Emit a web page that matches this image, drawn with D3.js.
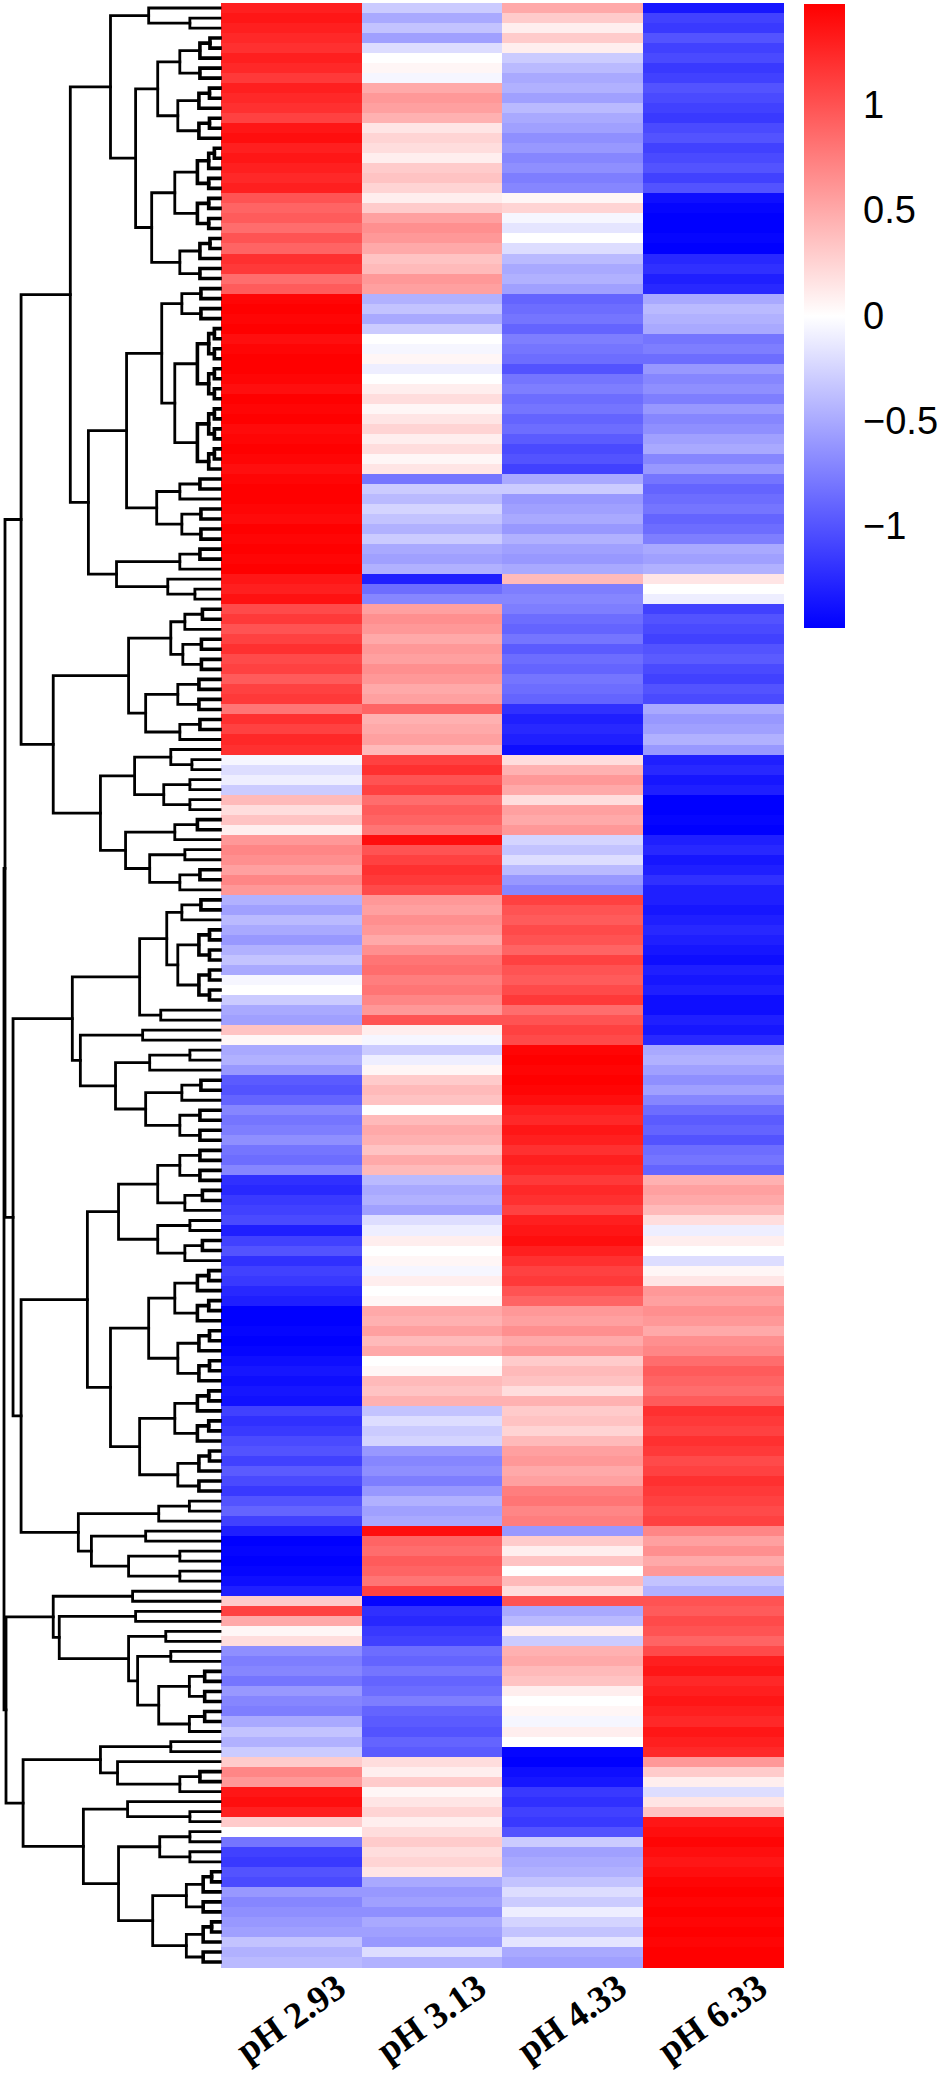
<!DOCTYPE html>
<html>
<head>
<meta charset="utf-8">
<script src="https://cdn.jsdelivr.net/npm/d3@7"></script>
<style>
  html, body { margin: 0; padding: 0; background: #ffffff; }
  svg { display: block; }
</style>
</head>
<body>
<svg id="chart" width="940" height="2077"></svg>
<script>
// ---------------- DATA ----------------
const columns = ["pH 2.93", "pH 3.13", "pH 4.33", "pH 6.33"];

const ph293 = [1.3,1.35,1.3,
1.25,1.2,1.3,1.25,1.15,1.3,1.25,1.2,1.1,
1.35,1.4,1.3,1.35,1.3,1.25,1.3,
1.0,0.9,0.95,0.85,1.0,0.9,
1.2,1.15,
0.85,0.95,
1.45,1.48,1.45,1.48,1.4,1.45,1.48,1.48,1.45,1.4,1.48,1.45,1.48,1.42,1.45,1.48,1.45,1.4,1.45,1.48,1.48,1.45,1.42,1.48,1.45,1.48,1.45,1.48,
1.35,1.3,1.38,
1.05,1.15,1.0,1.1,1.2,1.05,1.1,0.95,1.1,1.15,
0.8,
1.2,1.1,1.25,1.2,
-0.05,-0.2,-0.1,-0.3,
0.4,0.2,0.35,0.1,
0.6,0.7,0.65,0.55,0.7,0.6,
-0.45,-0.55,-0.4,-0.5,-0.6,-0.45,-0.35,-0.5,-0.05,0.0,-0.3,-0.5,-0.55,
0.35,0.05,
-0.5,-0.45,-0.6,
-0.95,-1.0,-0.9,
-0.7,-0.8,-0.75,-0.65,-0.8,-0.85,-0.7,
-1.2,-1.25,-1.15,-1.1,
-1.05,-1.3,-1.1,-1.0,
-1.2,-1.1,-1.15,-1.25,-1.3,
-1.48,-1.48,-1.45,-1.48,-1.45,-1.4,-1.35,-1.4,-1.35,-1.38,
-1.1,-1.2,-1.15,-1.05,
-1.0,-1.1,-0.95,-1.05,-1.15,-1.0,-0.9,-1.1,
-1.3,-1.48,-1.45,-1.48,-1.45,-1.4,-1.3,
0.3,1.1,0.5,0.05,0.2,
-0.65,-0.75,-0.7,-0.8,-0.6,-0.7,-0.75,
-0.5,-0.35,-0.45,-0.3,
0.3,0.7,0.6,
1.35,1.4,1.3,
0.3,0.0,
-0.8,-1.1,-1.15,-1.0,-1.05,
-0.6,-0.7,-0.65,-0.6,-0.55,
-0.35,-0.45,-0.4];

const ph313 = [-0.3,-0.5,-0.35,
-0.55,-0.2,
0.0,0.05,-0.05,
0.5,0.6,0.55,0.45,
0.15,0.25,0.2,0.1,0.3,
0.35,0.25,
0.1,0.3,
0.55,0.65,0.6,0.5,
0.35,0.4,
0.6,0.55,
-0.45,-0.35,-0.5,-0.3,
0.0,-0.05,0.05,-0.1,0.0,
0.1,0.2,0.05,0.15,0.25,0.1,0.2,0.05,0.15,
-0.8,
-0.3,-0.4,-0.25,-0.35,-0.45,-0.3,
-0.5,-0.55,-0.45,
-1.3,
-0.85,-0.7,
0.55,0.65,0.6,0.5,0.6,0.55,0.65,0.6,0.5,0.55,
0.9,0.45,0.5,0.55,0.4,
1.1,1.2,1.0,1.1,
0.85,0.95,0.9,0.8,
1.4,
1.0,1.1,1.2,1.15,1.05,
0.6,0.55,0.65,0.6,0.5,0.65,
0.8,0.85,0.75,0.8,0.7,
0.6,
1.0,
0.1,-0.05,
-0.3,-0.1,0.05,
0.3,0.4,0.35,
0.0,
0.4,0.5,0.45,0.35,0.5,0.4,
-0.4,-0.5,-0.45,-0.55,
-0.2,-0.1,
0.1,0.0,0.05,-0.05,0.1,0.0,0.05,
0.5,0.45,0.55,0.4,0.5,
0.0,0.05,
0.4,0.35,0.45,
-0.35,-0.2,-0.3,-0.25,
-0.6,-0.7,-0.65,-0.75,-0.6,
-0.45,-0.55,-0.5,
1.4,0.9,0.85,0.95,0.9,0.8,1.1,
-1.45,
-1.2,-1.25,-1.15,-1.1,
-0.85,-0.9,-0.8,-0.9,-0.85,-0.75,-0.9,
-0.95,-1.0,-0.9,-0.95,
0.2,0.1,0.3,0.05,0.15,0.25,0.1,0.2,
0.3,0.2,0.25,0.15,
-0.5,-0.6,-0.55,-0.65,-0.5,-0.55,-0.6,-0.2,-0.45];

const ph433 = [0.5,0.3,0.1,
0.3,0.1,
-0.3,-0.4,-0.5,-0.45,-0.55,-0.4,-0.5,
-0.55,-0.65,-0.6,-0.7,-0.65,-0.75,-0.7,
0.05,0.25,
-0.05,-0.15,0.0,-0.2,
-0.4,-0.5,-0.45,-0.55,
-0.9,-0.85,-0.8,-0.9,-0.75,-0.8,-0.85,
-1.0,-0.8,-0.75,-0.85,-0.8,-0.9,-0.85,
-0.95,-1.05,-1.0,-1.1,
-0.5,-0.3,-0.6,-0.55,-0.5,-0.6,-0.45,-0.55,-0.6,-0.5,
0.4,-0.75,-0.7,
-0.75,-0.85,-0.9,-0.8,-0.95,-0.85,-0.9,-0.8,-0.85,-0.9,
-1.2,-1.3,-1.25,-1.3,-1.4,
0.2,
0.45,0.6,0.5,0.2,0.55,0.5,0.6,
-0.25,-0.35,-0.2,-0.4,
-0.6,-0.7,
1.1,1.0,0.95,1.05,1.0,0.9,1.1,1.0,0.95,1.05,1.15,
0.85,
1.0,1.1,1.05,
1.45,1.48,1.45,1.48,1.45,1.4,
1.3,1.25,1.35,1.3,1.2,1.3,1.25,
1.15,1.25,1.2,1.1,
1.3,1.35,1.4,1.3,
1.2,1.1,1.15,1.0,0.9,
0.6,0.55,0.65,0.5,0.6,
0.3,0.4,0.35,0.2,0.45,0.3,0.35,0.25,0.4,
0.55,0.6,0.5,0.55,
0.75,0.8,0.7,0.75,
-0.6,0.3,0.1,0.35,0.0,0.4,0.2,
1.0,-0.5,-0.4,0.1,-0.3,
0.45,0.5,0.4,0.35,
0.1,0.0,0.05,-0.05,0.1,0.0,
-1.45,-1.48,-1.4,-1.35,
-1.15,-1.2,-1.1,-1.15,-1.0,
-0.3,-0.55,-0.5,-0.45,
-0.35,-0.2,-0.3,-0.1,-0.25,-0.35,-0.15,-0.5,-0.55];

const ph633 = [-1.35,-1.1,-1.15,
-1.0,-1.1,-1.05,-1.15,-1.1,-1.0,-1.05,-1.1,-1.15,-1.05,-1.0,-1.1,-1.05,-1.0,-1.1,-1.0,
-1.4,-1.45,-1.48,-1.48,-1.45,-1.48,
-1.25,-1.2,-1.3,-1.25,
-0.5,-0.4,-0.45,-0.5,
-0.8,-0.75,-0.85,
-0.6,-0.7,-0.65,-0.75,-0.6,-0.7,-0.65,-0.55,-0.5,-0.7,-0.6,
-0.8,-0.9,-0.85,-0.8,-0.9,-0.85,-0.75,
-0.5,-0.55,-0.45,
0.15,0.0,-0.1,
-1.1,-1.0,-1.05,-1.1,-1.0,-0.95,-1.05,-1.1,-1.0,-1.05,
-0.5,-0.6,-0.55,-0.45,-0.6,
-1.3,-1.25,-1.35,-1.3,
-1.48,-1.48,-1.45,-1.48,
-1.3,-1.25,-1.35,-1.3,-1.2,-1.3,
-1.3,-1.35,-1.3,-1.25,-1.3,-1.35,-1.4,-1.3,-1.35,-1.3,-1.4,
-1.4,-1.3,-1.35,-1.25,
-0.5,-0.45,-0.55,
-0.65,-0.55,-0.7,
-0.85,-0.95,-0.9,-1.0,-0.85,-0.8,-0.9,
0.45,0.55,0.5,0.4,
0.2,-0.1,0.1,0.0,-0.2,0.05,0.15,
0.6,0.55,0.65,0.6,0.5,0.65,0.7,
0.85,0.95,0.9,0.85,0.95,
1.2,1.15,1.1,1.2,1.15,1.05,1.1,1.2,1.15,1.1,1.05,1.1,
0.7,0.55,0.65,0.5,0.6,
-0.35,-0.45,
1.0,0.95,1.05,1.0,0.9,1.05,
1.3,1.35,1.25,1.3,1.35,1.3,1.25,1.35,1.3,1.25,
0.6,0.3,0.1,-0.2,0.15,0.35,
1.35,1.4,1.45,1.4,1.35,1.4,1.45,1.48,1.45,1.48,1.45,1.48,1.45,1.48,1.48];

const colorDomain = [-1.48, 0, 1.48];
const colorRange = ["#0000ff", "#ffffff", "#ff0000"];
const legendTicks = [-1, -0.5, 0, 0.5, 1];

// Row dendrogram: N(height, upper, lower); G(firstRow, lastRow, height) = terminal leaf group
function N(d, l, r) { return { d: d, kids: [l, r] }; }
function G(a, b, d) { return { a: a, b: b, d: d }; }
const dendro = N(215,
  N(214,
    N(198,
      N(149,
        N(109,
          N(71, G(0,0,0), G(1,2,30)),
          N(84,
            N(62, G(3,7,40), G(8,13,42)),
            N(68, G(14,22,45), G(23,27,40)))),
        N(131,
          N(93,
            N(58, G(28,31,38), G(32,46,45)),
            N(63, G(47,49,40), G(50,53,38))),
          N(103, G(54,56,40), N(52, G(57,57,0), G(58,59,25))))),
      N(166,
        N(91,
          N(49, G(60,62,35), G(63,66,37)),
          N(74, G(67,70,42), G(71,73,40))),
        N(119,
          N(85, N(49, G(74,74,0), G(75,76,28)), N(56, G(77,78,30), G(79,80,30))),
          N(94, G(81,83,45), N(70, G(84,85,35), G(86,88,40)))))),
    N(206,
      N(147,
        N(80, N(53, G(89,91,38), G(92,99,42)), N(59, G(100,100,0), G(101,101,0))),
        N(139, N(77, G(102,102,0), G(103,103,0)),
               N(104, N(70, G(104,105,30), G(106,106,0)), N(74, G(107,109,38), G(110,113,40))))),
      N(198,
        N(132,
          N(101, N(62, G(114,117,40), G(118,120,35)), N(62, G(121,122,30), G(123,125,35))),
          N(109, N(71, G(126,131,45), G(132,137,42)), N(80, G(138,143,45), G(144,148,42)))),
        N(141, G(149,151,61),
               N(128, N(74, G(152,152,0), G(153,153,0)), N(91, G(154,155,40), G(156,157,40))))))),
  N(213,
    N(166,
      N(87, G(158,158,0), G(159,159,0)),
      N(160, N(84, G(160,160,0), G(161,161,0)),
             N(91, N(54, G(162,162,0), G(163,163,0)), N(82, G(164,165,49), G(166,172,61))))),
    N(196,
      N(119, G(173,174,49), N(102, G(175,175,0), G(176,178,40))),
      N(136, N(92, G(179,179,0), G(180,181,30)), N(101, G(182,185,60), G(186,195,67))))));

// ---------------- DRAWING ----------------
const series = [ph293, ph313, ph433, ph633];
const nRows = ph293.length;
const rowIdx = d3.range(nRows);

const svg = d3.select("#chart");
svg.append("rect").attr("width", 940).attr("height", 2077).attr("fill", "#fff");

const heatTop = 3, heatBottom = 1967, heatLeft = 221, heatRight = 783;

const y = d3.scaleBand().domain(rowIdx).range([heatTop, heatBottom]);
const x = d3.scaleBand().domain(columns).range([heatLeft, heatRight]);
const color = d3.scaleLinear().domain(colorDomain).range(colorRange).interpolate(d3.interpolateRgb).clamp(true);

// heatmap cells
const cells = [];
columns.forEach((c, ci) => rowIdx.forEach(r => cells.push({ c: c, r: r, v: series[ci][r] })));
svg.append("g").attr("shape-rendering", "crispEdges")
  .selectAll("rect").data(cells).join("rect")
  .attr("x", d => x(d.c))
  .attr("y", d => y(d.r))
  .attr("width", x.bandwidth() + 0.5)
  .attr("height", y.bandwidth() + 0.6)
  .attr("fill", d => color(d.v));

// dendrogram
function expand(n) {
  if (n.kids) return { d: n.d, children: n.kids.map(expand) };
  return comb(n.a, n.b, n.d);
}
function comb(a, b, d) {
  if (a === b) return { d: 0, row: a };
  const m = Math.floor((a + b) / 2);
  return { d: d, children: [comb(a, m, d * 0.5), comb(m + 1, b, d * 0.5)] };
}
const root = d3.hierarchy(expand(dendro));
const xd = d3.scaleLinear().domain([0, 215]).range([220, 4]);
root.eachAfter(n => {
  if (!n.children) n.py = y(n.data.row) + y.bandwidth() / 2;
  else n.py = d3.mean(n.children, c => c.py);
});
const links = root.descendants().filter(n => n.children);
svg.append("g")
  .attr("fill", "none").attr("stroke", "#000")
  .attr("stroke-linecap", "square").attr("stroke-linejoin", "miter")
  .selectAll("path").data(links).join("path")
  .attr("stroke-width", n => n.data.d < 24 ? 3.6 : 2.8)
  .attr("d", n => {
    const a = n.children[0], b = n.children[1];
    const xn = xd(n.data.d);
    return `M${xd(a.data.d)},${a.py}H${xn}V${b.py}H${xd(b.data.d)}`;
  });

// colour legend
const cbTop = 4, cbBottom = 628, cbLeft = 804, cbWidth = 41;
const cbScale = d3.scaleLinear().domain([colorDomain[0], colorDomain[2]]).range([cbBottom, cbTop]);
const defs = svg.append("defs");
const grad = defs.append("linearGradient").attr("id", "cbgrad")
  .attr("x1", "0").attr("y1", "1").attr("x2", "0").attr("y2", "0");
d3.range(0, 1.0001, 0.05).forEach(t => {
  const v = colorDomain[0] + t * (colorDomain[2] - colorDomain[0]);
  grad.append("stop").attr("offset", t).attr("stop-color", color(v));
});
svg.append("rect").attr("x", cbLeft).attr("y", cbTop).attr("width", cbWidth)
  .attr("height", cbBottom - cbTop).attr("fill", "url(#cbgrad)");

const axis = d3.axisRight(cbScale).tickValues(legendTicks).tickFormat(d3.format("~g"))
  .tickSize(0).tickPadding(18);
const ag = svg.append("g").attr("transform", `translate(${cbLeft + cbWidth},0)`).call(axis);
ag.select(".domain").remove();
ag.selectAll("text").attr("font-family", "'Liberation Sans', Arial, sans-serif")
  .attr("font-size", 38).attr("fill", "#000");

// column labels
svg.append("g").selectAll("text").data(columns).join("text")
  .attr("transform", d => `translate(${x(d) + x.bandwidth() / 2 + 57},${heatBottom + 26}) rotate(-35)`)
  .attr("text-anchor", "end")
  .attr("font-family", "'Liberation Serif', 'Times New Roman', serif")
  .attr("font-weight", "bold").attr("font-size", 37).attr("fill", "#000")
  .text(d => d);
</script>
</body>
</html>
